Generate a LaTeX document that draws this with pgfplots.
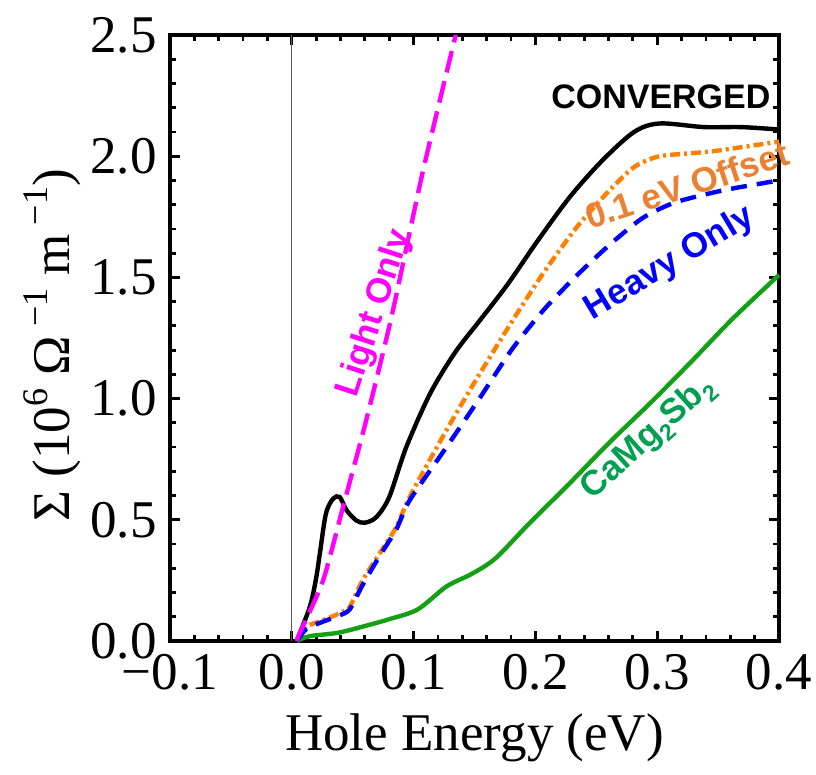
\documentclass[border=0pt]{standalone}
\usepackage{fontspec}
\setmainfont{Liberation Serif}
\newfontfamily\lab{Liberation Sans}
\usepackage{pgfplots}
\pgfplotsset{compat=1.18}
\definecolor{cOrange}{RGB}{255,128,0}
\definecolor{cOrangeT}{RGB}{235,128,50}
\definecolor{cGreen}{RGB}{20,160,20}
\definecolor{cGreenT}{RGB}{0,160,80}
\definecolor{cMag}{RGB}{255,0,255}
\definecolor{cBlue}{RGB}{0,0,255}
\newcommand{\sups}[1]{\raisebox{0.42em}{\fontsize{18}{18}\selectfont #1}}
\newcommand{\subs}[1]{\raisebox{-0.22em}{\fontsize{11.5}{11.5}\selectfont #1}}
\begin{document}
\begin{tikzpicture}
\begin{axis}[
  scale only axis, width=304.5pt, height=303pt,
  xmin=-0.1, xmax=0.4, ymin=0, ymax=2.5,
  xtick={-0.1,0,0.1,0.2,0.3,0.4},
  xticklabels={−0.1,0.0,0.1,0.2,0.3,0.4},
  ytick={0,0.5,1,1.5,2,2.5},
  yticklabels={0.0,0.5,1.0,1.5,2.0,2.5},
  minor x tick num=4, minor y tick num=4,
  tick align=inside,
  major tick length=5pt, minor tick length=3pt,
  tick style={black, line width=1.4pt},
  axis line style={line width=2pt},
  tick label style={font=\fontsize{26.5}{30}\selectfont, inner sep=0pt},
  xticklabel style={anchor=base, yshift=-24pt},
  yticklabel style={anchor=east, xshift=-6.5pt},
  xlabel={Hole Energy (eV)},
  ylabel={Σ (10\sups{6} Ω\sups{ −1} m\sups{ −1})},
  label style={font=\fontsize{26.5}{30}\selectfont},
  xlabel style={at={(axis description cs:0.5,-0.18)}, anchor=base},
  ylabel style={at={(axis description cs:-0.194,0.488)}, anchor=center},
  clip=false,
  unbounded coords=jump,
  every axis plot/.append style={line width=2.2pt},
]
% tick marks drawn as short segments (major)
\addplot[black, line width=1.5pt, line cap=butt] coordinates {
(0,0) (0,0.0413) (nan,nan) (0,2.5) (0,2.4587) (nan,nan)
(0.1,0) (0.1,0.0413) (nan,nan) (0.1,2.5) (0.1,2.4587) (nan,nan)
(0.2,0) (0.2,0.0413) (nan,nan) (0.2,2.5) (0.2,2.4587) (nan,nan)
(0.3,0) (0.3,0.0413) (nan,nan) (0.3,2.5) (0.3,2.4587) (nan,nan)
(-0.1,0.5) (-0.09179,0.5) (nan,nan) (0.4,0.5) (0.39179,0.5) (nan,nan)
(-0.1,1) (-0.09179,1) (nan,nan) (0.4,1) (0.39179,1) (nan,nan)
(-0.1,1.5) (-0.09179,1.5) (nan,nan) (0.4,1.5) (0.39179,1.5) (nan,nan)
(-0.1,2) (-0.09179,2) (nan,nan) (0.4,2) (0.39179,2)};
% minor x
\addplot[black, line width=1.1pt, line cap=butt] coordinates {
(-0.08,0) (-0.08,0.0248) (nan,nan) (-0.08,2.5) (-0.08,2.4752) (nan,nan)
(-0.06,0) (-0.06,0.0248) (nan,nan) (-0.06,2.5) (-0.06,2.4752) (nan,nan)
(-0.04,0) (-0.04,0.0248) (nan,nan) (-0.04,2.5) (-0.04,2.4752) (nan,nan)
(-0.02,0) (-0.02,0.0248) (nan,nan) (-0.02,2.5) (-0.02,2.4752) (nan,nan)
(0.02,0) (0.02,0.0248) (nan,nan) (0.02,2.5) (0.02,2.4752) (nan,nan)
(0.04,0) (0.04,0.0248) (nan,nan) (0.04,2.5) (0.04,2.4752) (nan,nan)
(0.06,0) (0.06,0.0248) (nan,nan) (0.06,2.5) (0.06,2.4752) (nan,nan)
(0.08,0) (0.08,0.0248) (nan,nan) (0.08,2.5) (0.08,2.4752) (nan,nan)
(0.12,0) (0.12,0.0248) (nan,nan) (0.12,2.5) (0.12,2.4752) (nan,nan)
(0.14,0) (0.14,0.0248) (nan,nan) (0.14,2.5) (0.14,2.4752) (nan,nan)
(0.16,0) (0.16,0.0248) (nan,nan) (0.16,2.5) (0.16,2.4752) (nan,nan)
(0.18,0) (0.18,0.0248) (nan,nan) (0.18,2.5) (0.18,2.4752) (nan,nan)
(0.22,0) (0.22,0.0248) (nan,nan) (0.22,2.5) (0.22,2.4752) (nan,nan)
(0.24,0) (0.24,0.0248) (nan,nan) (0.24,2.5) (0.24,2.4752) (nan,nan)
(0.26,0) (0.26,0.0248) (nan,nan) (0.26,2.5) (0.26,2.4752) (nan,nan)
(0.28,0) (0.28,0.0248) (nan,nan) (0.28,2.5) (0.28,2.4752) (nan,nan)
(0.32,0) (0.32,0.0248) (nan,nan) (0.32,2.5) (0.32,2.4752) (nan,nan)
(0.34,0) (0.34,0.0248) (nan,nan) (0.34,2.5) (0.34,2.4752) (nan,nan)
(0.36,0) (0.36,0.0248) (nan,nan) (0.36,2.5) (0.36,2.4752) (nan,nan)
(0.38,0) (0.38,0.0248) (nan,nan) (0.38,2.5) (0.38,2.4752)};
% minor y
\addplot[black, line width=1.1pt, line cap=butt] coordinates {
(-0.1,0.1) (-0.09507,0.1) (nan,nan) (0.4,0.1) (0.39507,0.1) (nan,nan)
(-0.1,0.2) (-0.09507,0.2) (nan,nan) (0.4,0.2) (0.39507,0.2) (nan,nan)
(-0.1,0.3) (-0.09507,0.3) (nan,nan) (0.4,0.3) (0.39507,0.3) (nan,nan)
(-0.1,0.4) (-0.09507,0.4) (nan,nan) (0.4,0.4) (0.39507,0.4) (nan,nan)
(-0.1,0.6) (-0.09507,0.6) (nan,nan) (0.4,0.6) (0.39507,0.6) (nan,nan)
(-0.1,0.7) (-0.09507,0.7) (nan,nan) (0.4,0.7) (0.39507,0.7) (nan,nan)
(-0.1,0.8) (-0.09507,0.8) (nan,nan) (0.4,0.8) (0.39507,0.8) (nan,nan)
(-0.1,0.9) (-0.09507,0.9) (nan,nan) (0.4,0.9) (0.39507,0.9) (nan,nan)
(-0.1,1.1) (-0.09507,1.1) (nan,nan) (0.4,1.1) (0.39507,1.1) (nan,nan)
(-0.1,1.2) (-0.09507,1.2) (nan,nan) (0.4,1.2) (0.39507,1.2) (nan,nan)
(-0.1,1.3) (-0.09507,1.3) (nan,nan) (0.4,1.3) (0.39507,1.3) (nan,nan)
(-0.1,1.4) (-0.09507,1.4) (nan,nan) (0.4,1.4) (0.39507,1.4) (nan,nan)
(-0.1,1.6) (-0.09507,1.6) (nan,nan) (0.4,1.6) (0.39507,1.6) (nan,nan)
(-0.1,1.7) (-0.09507,1.7) (nan,nan) (0.4,1.7) (0.39507,1.7) (nan,nan)
(-0.1,1.8) (-0.09507,1.8) (nan,nan) (0.4,1.8) (0.39507,1.8) (nan,nan)
(-0.1,1.9) (-0.09507,1.9) (nan,nan) (0.4,1.9) (0.39507,1.9) (nan,nan)
(-0.1,2.1) (-0.09507,2.1) (nan,nan) (0.4,2.1) (0.39507,2.1) (nan,nan)
(-0.1,2.2) (-0.09507,2.2) (nan,nan) (0.4,2.2) (0.39507,2.2) (nan,nan)
(-0.1,2.3) (-0.09507,2.3) (nan,nan) (0.4,2.3) (0.39507,2.3) (nan,nan)
(-0.1,2.4) (-0.09507,2.4) (nan,nan) (0.4,2.4) (0.39507,2.4)};

\addplot[gray!70!black, line width=0.5pt] coordinates {(0,0) (0,2.5)};

\addplot[cGreen, smooth, tension=0.5] coordinates {
(0.004,0) (0.0148,0.02) (0.039,0.035) (0.066,0.07) (0.08,0.09) (0.1033,0.13)
(0.127,0.225) (0.147,0.275) (0.167,0.34) (0.194,0.48) (0.228,0.65) (0.261,0.82)
(0.295,0.985) (0.3285,1.155) (0.362,1.33) (0.4,1.51)};

\addplot[black, smooth, tension=0.5] coordinates {
(0.004,0) (0.0148,0.141) (0.020,0.26) (0.023,0.36) (0.028,0.525) (0.0339,0.587)
(0.0393,0.594) (0.045,0.539) (0.053,0.497) (0.060,0.488) (0.0694,0.511) (0.080,0.594)
(0.094,0.80) (0.1135,1.02) (0.134,1.19) (0.154,1.32) (0.177,1.47)
(0.201,1.645) (0.228,1.83) (0.2545,1.98) (0.281,2.10) (0.302,2.135) (0.3385,2.12)
(0.369,2.12) (0.4,2.11)};

\addplot[cOrange, smooth, tension=0.4, line cap=butt, dash pattern=on 5pt off 2pt on 1.5pt off 2pt] coordinates {
(0.004,0) (0.012,0.059) (0.0257,0.086) (0.039,0.114) (0.0475,0.141) (0.058,0.25)
(0.072,0.36) (0.0858,0.47) (0.0967,0.594) (0.127,0.87) (0.154,1.10)
(0.181,1.32) (0.2075,1.525) (0.2344,1.71) (0.261,1.86) (0.281,1.955) (0.302,2.00)
(0.345,2.02) (0.4,2.06)};

\addplot[cBlue, smooth, tension=0.4, line cap=butt, dash pattern=on 8pt off 5pt] coordinates {
(0.004,0) (0.012,0.05) (0.0257,0.08) (0.039,0.105) (0.0475,0.13) (0.058,0.23)
(0.072,0.35) (0.0858,0.46) (0.0967,0.58) (0.127,0.80) (0.154,1.00)
(0.181,1.205) (0.2075,1.37) (0.2344,1.51) (0.261,1.635) (0.288,1.745) (0.315,1.81)
(0.355,1.86) (0.4,1.90)};

\addplot[cMag, smooth, tension=0.4, line cap=butt, dash pattern=on 11pt off 4.5pt] coordinates {
(0.004,0) (0.0066,0.033) (0.0257,0.25) (0.042,0.552) (0.061,0.909) (0.0817,1.334)
(0.1076,1.937) (0.1346,2.5)};

\node[font=\lab\bfseries\fontsize{17}{18}\selectfont, text=black] at (axis cs:0.303,2.244) {CONVERGED};
\node[font=\lab\bfseries\fontsize{17.5}{18}\selectfont, text=cOrangeT, rotate=18] at (axis cs:0.3245,1.881) {0.1 eV Offset};
\node[font=\lab\bfseries\fontsize{17.5}{18}\selectfont, text=cBlue, rotate=31] at (axis cs:0.3105,1.555) {Heavy Only};
\node[font=\lab\bfseries\fontsize{17.5}{18}\selectfont, text=cMag, rotate=72] at (axis cs:0.0683,1.353) {Light Only};
\node[font=\lab\bfseries\fontsize{17.5}{18}\selectfont, text=cGreenT, rotate=42] at (axis cs:0.2924,0.837) {CaMg\subs{2}Sb\subs{2}};
\end{axis}
\path ([shift={(-85pt,-66.5pt)}]current axis.south west) rectangle ([shift={(18.5pt,17.5pt)}]current axis.north east);
\end{tikzpicture}
\end{document}
